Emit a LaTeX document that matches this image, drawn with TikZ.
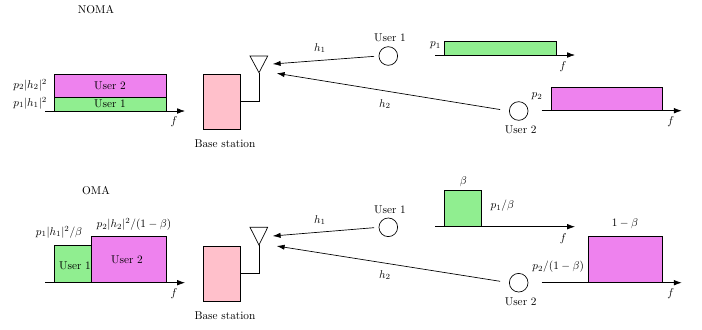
\documentclass[tikz,border=0pt]{standalone}
\usetikzlibrary{arrows.meta}
\definecolor{ugreen}{HTML}{90EE90}
\definecolor{uviolet}{HTML}{EE82EE}
\definecolor{bspink}{HTML}{FFC0CB}
\tikzset{
 lw/.style={line width=0.6pt},
 axis/.style={lw,-{Latex[length=7pt,width=5pt]}},
 link/.style={lw,-{Latex[length=7pt,width=4.6pt]}},
 gbox/.style={lw,draw=black,fill=ugreen},
 vbox/.style={lw,draw=black,fill=uviolet},
 bsbox/.style={lw,draw,fill=bspink,minimum width=33.4pt,minimum height=48.7pt,inner sep=0pt},
 user/.style={lw,draw,circle,minimum size=16.5pt,inner sep=0pt},
}
\begin{document}
\begin{tikzpicture}[x=0.885pt,y=-0.885pt]
\useasboundingbox (0,0) rectangle (702,329);
% ================= NOMA =================
\node (noma) at (96,10) {NOMA};
% left combined spectrum
\draw[gbox] (54.3,97.3) rectangle (166,111);
\draw[vbox] (54.3,74) rectangle (166,97.3);
\node (nu2) at (110,85.6) {User 2};
\node (nu1) at (110,104.1) {User 1};
\draw[axis] (45,111) -- (185,111);
\node[anchor=east] (np2) at (51,85) {$p_2|h_2|^2$};
\node[anchor=east] (np1) at (51,103) {$p_1|h_1|^2$};
\node (nf0) at (174,122) {$f$};
% base station
\node[bsbox] (bs1) at (221.85,101.5) {};
\node (bsl1) at (225,144) {Base station};
\coordinate (an1) at (259,72.7);
\draw[lw] (bs1.east) -- (259,101.5) -- (an1);
\draw[lw] (an1) -- (250,56) -- (267.7,56) -- cycle;
% users
\node[user] (u1a) at (388.3,56) {};
\node (u1al) at (390,38) {User 1};
\coordinate (t1a) at (272.7,64);
\draw[link,shorten <=4pt] (u1a.west) -- (t1a);
\node (h1a) at (320,48) {$h_1$};
\node[user] (u2a) at (518.7,111) {};
\node (u2al) at (520.7,130) {User 2};
\coordinate (t2a) at (276.7,73.3);
\draw[link,shorten <=8pt] (u2a.west) -- (t2a);
\node (h2a) at (385,104) {$h_2$};
% user spectra
\draw[gbox] (444.3,41.3) rectangle (556,55);
\draw[axis] (435,55) -- (575,55);
\node (p1a) at (435.5,45) {$p_1$};
\node (nf1) at (563,66.7) {$f$};
\draw[vbox] (551,87.7) rectangle (662.7,110.7);
\draw[axis] (541.7,110.7) -- (681.7,110.7);
\node (p2a) at (537,96) {$p_2$};
\node (nf2) at (670.7,121.7) {$f$};
% ================= OMA =================
\node (oma) at (96,191) {OMA};
\draw[gbox] (54.3,245.7) rectangle (91.7,282.7);
\draw[vbox] (91.7,236.3) rectangle (166,282.7);
\node (ou1) at (75,265.7) {User 1};
\node (ou2) at (127,259.7) {User 2};
\draw[axis] (45,282.7) -- (185,282.7);
\node (op1) at (59,232) {$p_1|h_1|^2/\beta$};
\node (op2) at (134,224.3) {$p_2|h_2|^2/(1-\beta)$};
\node (of0) at (174,293.5) {$f$};
% base station
\node[bsbox] (bs2) at (221.85,273.35) {};
\node (bsl2) at (225,316) {Base station};
\coordinate (an2) at (259,245);
\draw[lw] (bs2.east) -- (259,273.35) -- (an2);
\draw[lw] (an2) -- (250,227.3) -- (267.7,227.3) -- cycle;
% users
\node[user] (u1b) at (388.3,227.3) {};
\node (u1bl) at (390,209.3) {User 1};
\coordinate (t1b) at (272.7,236);
\draw[link,shorten <=4pt] (u1b.west) -- (t1b);
\node (h1b) at (320,220) {$h_1$};
\node[user] (u2b) at (518.7,282.7) {};
\node (u2bl) at (520.7,301.7) {User 2};
\coordinate (t2b) at (276.7,246);
\draw[link,shorten <=8pt] (u2b.west) -- (t2b);
\node (h2b) at (385,275) {$h_2$};
% user spectra
\draw[gbox] (444.3,190) rectangle (481.7,226.7);
\draw[axis] (435,226.7) -- (575,226.7);
\node (bb) at (463.3,181.7) {$\beta$};
\node (p1b) at (502.3,206) {$p_1/\beta$};
\node (of1) at (563.3,238.3) {$f$};
\draw[vbox] (588.3,236.3) rectangle (662.7,282.7);
\draw[axis] (541.7,282.7) -- (681.7,282.7);
\node (omb) at (625,223.3) {$1-\beta$};
\node (p2b) at (558.3,266.7) {$p_2/(1-\beta)$};
\node (of2) at (670.7,293.3) {$f$};
\end{tikzpicture}
\end{document}
